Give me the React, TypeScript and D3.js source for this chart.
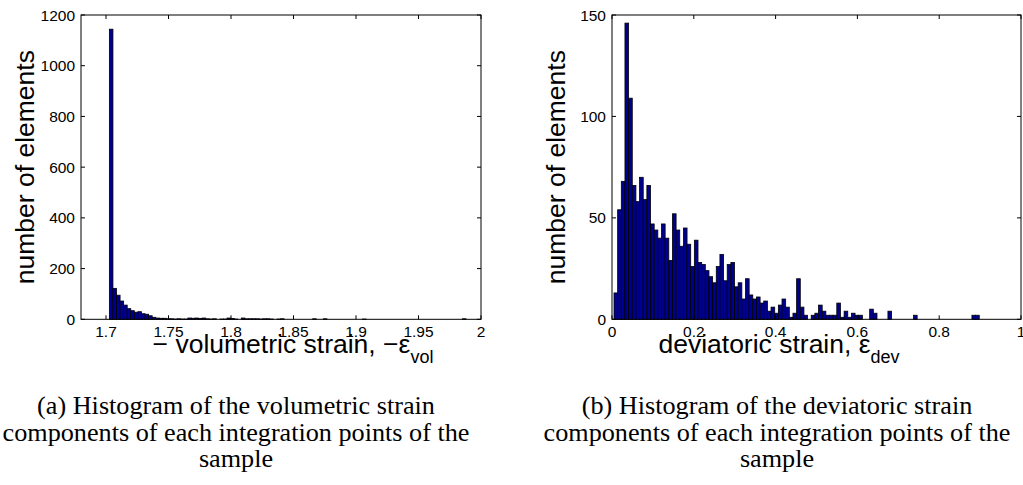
import React from 'react';
import * as d3 from 'd3';

// ---------- data ----------
// (a) volumetric strain histogram: 100 bins
const volBinStart = 1.7027;
const volBinWidth = 0.002853;
const volCounts = [
  1144, 122, 95, 72, 56, 42, 34, 28, 30, 22,
  20, 14, 8, 5, 4, 4, 2, 2, 1, 2,
  1, 1, 5, 4, 5, 3, 5, 2, 1, 2,
  0, 1, 1, 5, 3, 1, 0, 5, 2, 2,
  2, 2, 1, 2, 2, 1, 0, 1, 2, 0,
  0, 0, 0, 0, 0, 0, 0, 2, 0, 0,
  2, 0, 0, 0, 0, 0, 0, 0, 0, 0,
  0, 1, 0, 0, 0, 0, 0, 0, 0, 0,
  0, 0, 0, 0, 0, 0, 0, 0, 0, 0,
  0, 0, 0, 0, 0, 0, 0, 0, 0, 2,
];
const volXDomain = [1.68, 2.0];
const volYDomain = [0, 1200];
const volXTicks = [1.7, 1.75, 1.8, 1.85, 1.9, 1.95, 2];
const volYTicks = [0, 200, 400, 600, 800, 1000, 1200];

// (b) deviatoric strain histogram: 100 bins
const devBinStart = 0.0049;
const devBinWidth = 0.00893;
const devCounts = [
  13, 54, 68, 146, 109, 66, 58, 70, 59, 66,
  47, 44, 40, 47, 40, 29, 52, 44, 36, 45,
  37, 26, 39, 28, 27, 24, 21, 18, 26, 32,
  19, 27, 28, 16, 18, 10, 20, 12, 10, 11,
  8, 9, 4, 6, 3, 7, 10, 6, 1, 3,
  20, 6, 2, 0, 2, 3, 7, 4, 2, 2,
  2, 8, 1, 4, 1, 3, 2, 2, 0, 0,
  5, 3, 0, 0, 0, 4, 0, 0, 0, 0,
  0, 0, 2, 0, 0, 0, 0, 0, 0, 0,
  0, 0, 0, 0, 0, 0, 0, 0, 2, 2,
];
const devXDomain = [0, 1];
const devYDomain = [0, 150];
const devXTicks = [0, 0.2, 0.4, 0.6, 0.8, 1];
const devYTicks = [0, 50, 100, 150];

const yLabel = 'number of elements';
const volXLabel = '\u2212 volumetric strain, \u2212\u03b5';
const volXSub = 'vol';
const devXLabel = 'deviatoric strain, \u03b5';
const devXSub = 'dev';
const captionA = [
  '(a)  Histogram of the volumetric strain',
  'components of each integration points of the',
  'sample',
];
const captionB = [
  '(b)  Histogram of the deviatoric strain',
  'components of each integration points of the',
  'sample',
];

// ---------- styles ----------
const SANS = '"Liberation Sans", Arial, Helvetica, sans-serif';
const SERIF = '"Liberation Serif", "Times New Roman", Times, serif';
const BAR_FILL = '#00008F';
const TICK_FONT = 15.5;
const LABEL_FONT = 26.5;
const SUB_FONT = 18;
const CAPTION_FONT = 26.2;

type PanelProps = {
  left: number; right: number; top: number; bottom: number;
  xDomain: number[]; yDomain: number[];
  xTicks: number[]; yTicks: number[];
  counts: number[]; binStart: number; binWidth: number;
  xLabel: string; xSub: string; xLabelX: number;
  captionX: number; caption: string[];
};

function Panel(p: PanelProps) {
  const xs = d3.scaleLinear().domain(p.xDomain).range([p.left, p.right]);
  const ys = d3.scaleLinear().domain(p.yDomain).range([p.bottom, p.top]);
  const tl = 4;
  const cy = (p.top + p.bottom) / 2;
  return (
    <g>
      {p.counts.map((c, i) => {
        if (c <= 0) return null;
        const x0 = xs(p.binStart + i * p.binWidth);
        const x1 = xs(p.binStart + (i + 1) * p.binWidth);
        return (
          <rect key={i} x={x0} y={ys(c)} width={x1 - x0} height={ys(0) - ys(c)}
            fill={BAR_FILL} stroke="#000" strokeWidth={0.8} />
        );
      })}
      <rect x={p.left} y={p.top} width={p.right - p.left} height={p.bottom - p.top}
        fill="none" stroke="#000" strokeWidth={1} />
      {p.xTicks.map((t, i) => (
        <g key={'xt' + i}>
          <line x1={xs(t)} x2={xs(t)} y1={p.bottom} y2={p.bottom - tl} stroke="#000" />
          <line x1={xs(t)} x2={xs(t)} y1={p.top} y2={p.top + tl} stroke="#000" />
          <text x={xs(t)} y={p.bottom + 18} textAnchor="middle" fontSize={TICK_FONT}
            fontFamily={SANS}>{String(t)}</text>
        </g>
      ))}
      {p.yTicks.map((t, i) => (
        <g key={'yt' + i}>
          <line x1={p.left} x2={p.left + tl} y1={ys(t)} y2={ys(t)} stroke="#000" />
          <line x1={p.right} x2={p.right - tl} y1={ys(t)} y2={ys(t)} stroke="#000" />
          <text x={p.left - 6} y={ys(t) + 5.5} textAnchor="end" fontSize={TICK_FONT}
            fontFamily={SANS}>{String(t)}</text>
        </g>
      ))}
      <text transform={`translate(${p.left - 47},${cy}) rotate(-90)`} textAnchor="middle"
        fontSize={LABEL_FONT} fontFamily={SANS}>{yLabel}</text>
      <text x={p.xLabelX} y={p.bottom + 34} textAnchor="middle" fontSize={LABEL_FONT}
        fontFamily={SANS}>
        <tspan>{p.xLabel}</tspan>
        <tspan dy={10} fontSize={SUB_FONT}>{p.xSub}</tspan>
      </text>
      {p.caption.map((line, i) => (
        <text key={'c' + i} x={p.captionX} y={414 + i * 26.7} textAnchor="middle"
          fontSize={CAPTION_FONT} fontFamily={SERIF}>{line}</text>
      ))}
    </g>
  );
}

export default function App() {
  return (
    <svg width={1023} height={485} viewBox="0 0 1023 485"
      style={{ position: 'absolute', left: 0, top: 0, background: '#fff' }}>
      <rect x={0} y={0} width={1023} height={485} fill="#fff" />
      <Panel left={81} right={481} top={15} bottom={319.3}
        xDomain={volXDomain} yDomain={volYDomain} xTicks={volXTicks} yTicks={volYTicks}
        counts={volCounts} binStart={volBinStart} binWidth={volBinWidth}
        xLabel={volXLabel} xSub={volXSub} xLabelX={293} captionX={236} caption={captionA} />
      <Panel left={612} right={1021} top={15} bottom={319.3}
        xDomain={devXDomain} yDomain={devYDomain} xTicks={devXTicks} yTicks={devYTicks}
        counts={devCounts} binStart={devBinStart} binWidth={devBinWidth}
        xLabel={devXLabel} xSub={devXSub} xLabelX={779} captionX={777} caption={captionB} />
    </svg>
  );
}
